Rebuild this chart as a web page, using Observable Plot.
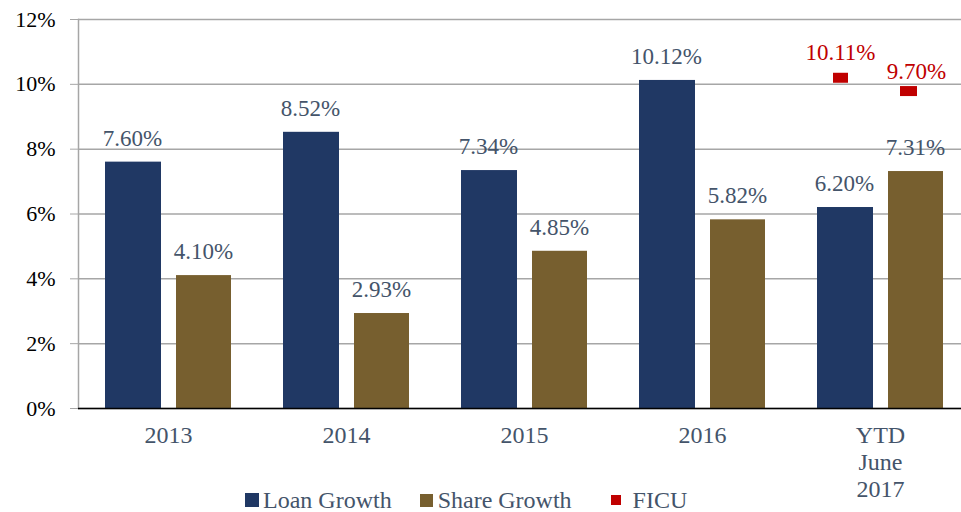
<!DOCTYPE html>
<html>
<head>
<meta charset="utf-8">
<script src="https://cdn.jsdelivr.net/npm/d3@7"></script>
<script src="https://cdn.jsdelivr.net/npm/@observablehq/plot@0.6"></script>
<style>
  html, body { margin: 0; padding: 0; background: #fff; }
  #wrap { position: relative; width: 961px; height: 512px; overflow: hidden; }
  #wrap svg, #wrap svg text { font-family: "Liberation Serif", "Times New Roman", serif; }
  #legend { position: absolute; top: 486px; left: 245px; font-family: "Liberation Serif", "Times New Roman", serif; font-size: 24px; line-height: 28px; color: #44546a; display: flex; align-items: center; white-space: nowrap; }
  #legend .item { display: flex; align-items: center; }
  #legend .sw { display: inline-block; }
</style>
</head>
<body>
<div id="wrap"><div id="legend"></div></div>
<script>
const categories = ["2013", "2014", "2015", "2016", "YTD\nJune\n2017"];
const loanGrowth = [7.60, 8.52, 7.34, 10.12, 6.20];
const shareGrowth = [4.10, 2.93, 4.85, 5.82, 7.31];
const ficuCategory = ["YTD\nJune\n2017"];
const ficuLoan = [10.11];
const ficuShare = [9.70];
const yTicks = [0, 2, 4, 6, 8, 10, 12];

const loanColor = "#203864";
const shareColor = "#775f2f";
const ficuColor = "#c00000";
const labelColor = "#44546a";
const fontFamily = '"Liberation Serif", "Times New Roman", serif';

const loanData = categories.map((c, i) => ({cat: c, v: loanGrowth[i]}));
const shareData = categories.map((c, i) => ({cat: c, v: shareGrowth[i]}));
const ficuLoanData = ficuCategory.map((c, i) => ({cat: c, v: ficuLoan[i]}));
const ficuShareData = ficuCategory.map((c, i) => ({cat: c, v: ficuShare[i]}));
const fmt = d => d.v.toFixed(2) + "%";

const chart = Plot.plot({
  width: 961,
  height: 512,
  marginLeft: 78,
  marginRight: 0,
  marginTop: 19,
  marginBottom: 104,
  style: {fontFamily, fontSize: "23px", background: "#fff", overflow: "visible"},
  x: {type: "band", domain: categories, range: [78, 970], padding: 0},
  y: {domain: [0, 12]},
  marks: [
    Plot.gridY(yTicks, {stroke: "#a6a6a6", strokeOpacity: 1, strokeWidth: 1.5}),
    Plot.frame({anchor: "left", stroke: "#a6a6a6", strokeWidth: 1.5}),
    Plot.axisY(yTicks, {
      tickFormat: d => d + "%", tickSize: 8, tickPadding: 15, stroke: "#a6a6a6",
      fill: "#000", fontSize: 22, fontFamily, label: null
    }),
    Plot.axisX({
      tickSize: 0, tickPadding: 15, lineHeight: 1.13, fill: labelColor, fontSize: 24, fontFamily, label: null
    }),
    Plot.barY(loanData, {x: "cat", y: "v", fill: loanColor, insetLeft: 26, insetRight: 96}),
    Plot.barY(shareData, {x: "cat", y: "v", fill: shareColor, insetLeft: 97, insetRight: 26}),
    Plot.ruleY([0], {stroke: "#000", strokeWidth: 1.5}),
    Plot.text(loanData, {x: "cat", y: "v", text: fmt, dx: -36, dy: -24, fill: labelColor, fontSize: 23, fontFamily}),
    Plot.text(shareData, {x: "cat", y: "v", text: fmt, dx: 35, dy: -24, fill: labelColor, fontSize: 23, fontFamily}),
    Plot.tickY(ficuLoanData, {x: "cat", y: "v", stroke: ficuColor, strokeWidth: 10, dy: -3, insetLeft: 42, insetRight: 121}),
    Plot.tickY(ficuShareData, {x: "cat", y: "v", stroke: ficuColor, strokeWidth: 10, dy: -3, insetLeft: 109, insetRight: 52}),
    Plot.text(ficuLoanData, {x: "cat", y: "v", text: fmt, dx: -40, dy: -28, fill: ficuColor, fontSize: 23, fontFamily}),
    Plot.text(ficuShareData, {x: "cat", y: "v", text: fmt, dx: 36, dy: -22, fill: ficuColor, fontSize: 23, fontFamily})
  ]
});
document.getElementById("wrap").prepend(chart);

const legendItems = [
  {label: "Loan Growth", color: loanColor, w: 14, h: 14, pad: 4, gap: 28},
  {label: "Share Growth", color: shareColor, w: 13, h: 13, pad: 5, gap: 39},
  {label: "FICU", color: ficuColor, w: 10, h: 10, pad: 12, gap: 0}
];
const legend = document.getElementById("legend");
legendItems.forEach(it => {
  const item = document.createElement("span");
  item.className = "item";
  item.style.marginRight = it.gap + "px";
  const sw = document.createElement("span");
  sw.className = "sw";
  sw.style.width = it.w + "px";
  sw.style.height = it.h + "px";
  sw.style.background = it.color;
  sw.style.marginRight = it.pad + "px";
  const tx = document.createElement("span");
  tx.textContent = it.label;
  item.append(sw, tx);
  legend.append(item);
});
</script>
</body>
</html>
